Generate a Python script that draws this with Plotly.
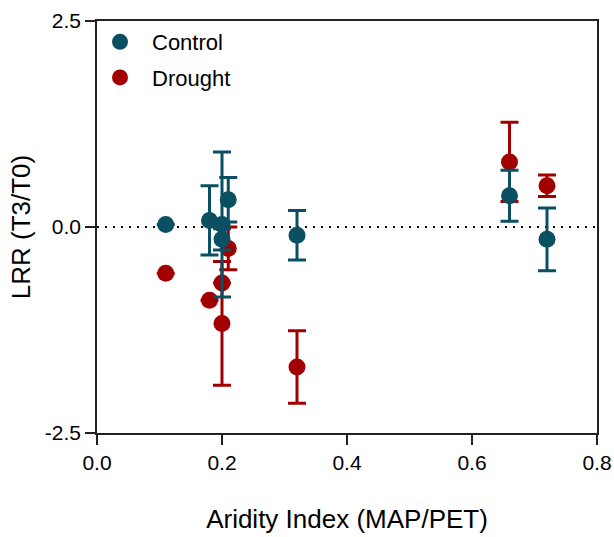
import plotly.graph_objects as go

# Data
control_x = [0.11, 0.18, 0.20, 0.20, 0.21, 0.32, 0.66, 0.72]
control_y = [0.03, 0.08, 0.03, -0.15, 0.33, -0.10, 0.38, -0.15]
control_err = [None, 0.42, 0.88, 0.13, 0.27, 0.30, 0.31, 0.38]

drought_x = [0.11, 0.18, 0.20, 0.20, 0.21, 0.32, 0.66, 0.72]
drought_y = [-0.56, -0.89, -0.68, -1.17, -0.26, -1.70, 0.79, 0.50]
drought_err = [None, None, None, 0.75, 0.26, 0.44, 0.48, 0.13]

x_ticks = [0.0, 0.2, 0.4, 0.6, 0.8]
x_labels = ["0.0", "0.2", "0.4", "0.6", "0.8"]
y_ticks = [-2.5, 0.0, 2.5]
y_labels = ["-2.5", "0.0", "2.5"]

CONTROL = "#0b4f62"
DROUGHT = "#a20000"
FONT = "Liberation Sans, Arial, sans-serif"

fig = go.Figure()
fig.add_trace(go.Scatter(
    x=drought_x, y=drought_y, mode="markers", name="Drought", legendrank=2,
    legendgroup="d",
    marker=dict(color=DROUGHT, size=17),
    error_y=dict(type="data", array=drought_err, visible=True, color=DROUGHT,
                 thickness=3, width=9),
))
fig.add_trace(go.Scatter(
    x=control_x, y=control_y, mode="markers", name="Control", legendrank=1,
    legendgroup="c",
    marker=dict(color=CONTROL, size=17),
    error_y=dict(type="data", array=control_err, visible=True, color=CONTROL,
                 thickness=3, width=9),
))

fig.add_shape(type="line", xref="paper", x0=0, x1=1, yref="y", y0=0, y1=0,
              line=dict(color="black", width=2, dash="2px,6px"), layer="below")

axis_common = dict(
    showgrid=False, zeroline=False, showline=True, mirror=True,
    linecolor="#222", linewidth=1.5, ticks="outside", ticklen=10,
    tickwidth=1.5, tickcolor="#222", automargin=False,
    tickfont=dict(family=FONT, size=21, color="black"),
)

fig.update_layout(
    width=614, height=537,
    margin=dict(l=97, r=17, t=21, b=104),
    paper_bgcolor="white", plot_bgcolor="white",
    font=dict(family=FONT, color="black"),
    xaxis=dict(range=[0, 0.8], tickvals=x_ticks, ticktext=x_labels, **axis_common,
               title=dict(text="Aridity Index (MAP/PET)", standoff=37,
                          font=dict(family=FONT, size=26))),
    yaxis=dict(range=[-2.5, 2.5], tickvals=y_ticks, ticktext=y_labels, **axis_common,
               title=dict(text="LRR (T3/T0)", standoff=7,
                          font=dict(family=FONT, size=26))),
    legend=dict(x=-0.018, y=1.0, xanchor="left", yanchor="top",
                font=dict(family=FONT, size=22), bgcolor="rgba(0,0,0,0)",
                itemwidth=54, tracegroupgap=4),
    showlegend=True,
)

fig.write_html("out.html",
               config={"displayModeBar": False},
               post_script="document.body.style.margin='0';document.body.style.overflow='hidden';")
